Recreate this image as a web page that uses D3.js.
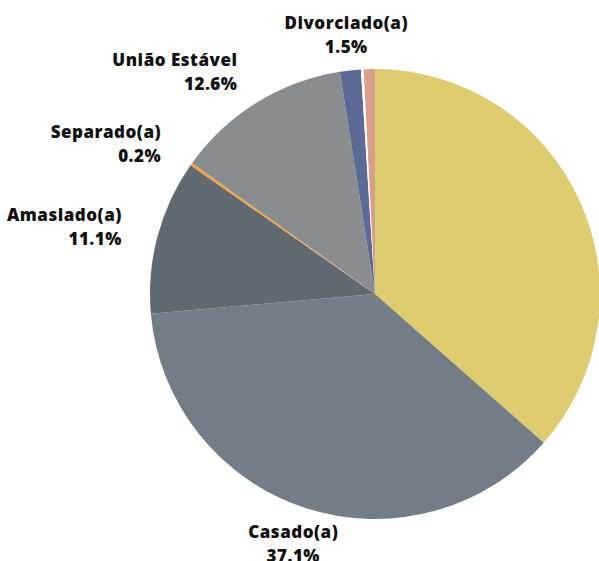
<!DOCTYPE html>
<html>
<head>
<meta charset="utf-8">
<script src="https://cdn.jsdelivr.net/npm/d3@7"></script>
<style>
	body { margin:0; background:#fff; }
	svg text { font-family:"Open Sans", sans-serif; font-weight:800; font-size:17px; fill:#111; letter-spacing:0.5px; }
</style>
</head>
<body>
<svg id="chart" width="599" height="561"></svg>
<script>
// slices in clockwise order from 12 o'clock
var categories = ["Solteiro(a)","Casado(a)","Amasiado(a)","Separado(a)","União Estável","Divorciado(a)","Viúvo(a)","Não informado"];
var values     = [36.5, 37.1, 11.1, 0.2, 12.6, 1.5, 0.2, 0.8];
var labelShown = [false, true, true, true, true, true, false, false];
var colors     = ["#ddcd70","#747c86","#636971","#f5a43c","#8a8d90","#5e6a96","#ffffff","#d8a08a"];

var width = 599, height = 561,
	cx = 375, cy = 294,
	radius = 225,
	labelRadius = 262;

var svg = d3.select("#chart");
var g = svg.append("g").attr("transform","translate("+cx+","+cy+")");

var data = categories.map(function(c,i){ return {name:c, value:values[i], show:labelShown[i], color:colors[i]}; });

var pie = d3.pie().sort(null).value(function(d){ return d.value; });
var arc = d3.arc().innerRadius(0).outerRadius(radius);
var arcs = pie(data);

g.selectAll("path.slice")
	.data(arcs)
	.enter().append("path")
	.attr("class","slice")
	.attr("d",arc)
	.attr("fill",function(d){ return d.data.color; });

// labels: anchor point on an outer circle, right-aligned on the left side,
// centered for slices pointing roughly up/down
g.selectAll("text.lbl")
	.data(arcs.filter(function(d){ return d.data.show; }))
	.enter().append("text")
	.attr("class","lbl")
	.each(function(d){
		var a = (d.startAngle+d.endAngle)/2;
		var ux = Math.sin(a), uy = -Math.cos(a);
		var x = labelRadius*ux, y = labelRadius*uy;
		var anchor = Math.abs(ux) < 0.35 ? "middle" : (ux < 0 ? "end" : "start");
		var t = d3.select(this).attr("text-anchor",anchor);
		t.append("tspan").attr("x",x).attr("y",y-5).text(d.data.name);
		t.append("tspan").attr("x",x).attr("y",y+19).text(d3.format(".1f")(d.data.value)+"%");
	});
</script>
</body>
</html>
